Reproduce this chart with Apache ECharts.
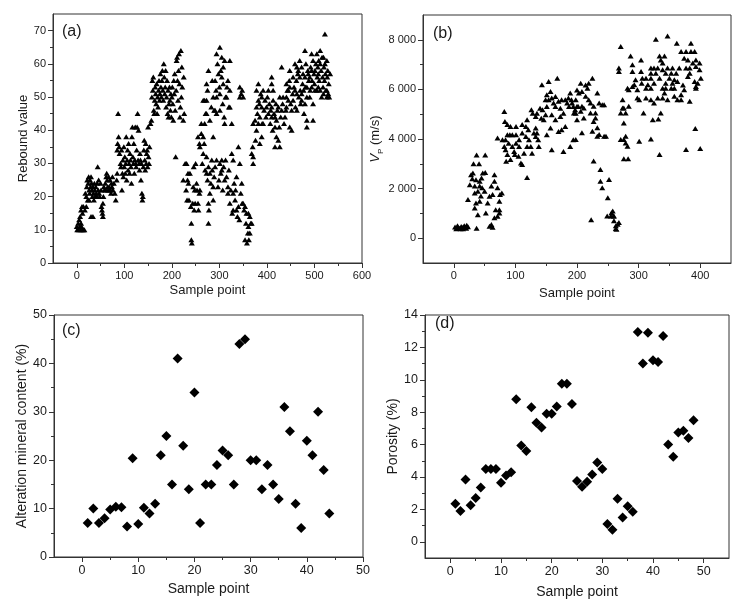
<!DOCTYPE html>
<html>
<head>
<meta charset="utf-8">
<script src="https://cdn.jsdelivr.net/npm/echarts@6/dist/echarts.min.js"></script>
<style>
  html, body { margin: 0; padding: 0; background: #fff; }
  #main { width: 743px; height: 611px; }
</style>
</head>
<body>
<div id="main"></div>
<script>
// (a) rebound value vs sample point
const reboundData = [
  [0,11],[1,10],[3,12],[4,10],[6,11],[8,10],[10,11],[12,10],[14,10],[16,10],[5,13],[9,12],[7,14],[9,16],[11,17],[14,17],[17,16],[12,15],
  [18,21],[20,20],[21,23],[22,25],[24,24],[25,26],[26,22],[27,21],[28,25],[29,23],[30,26],[31,24],[32,22],[33,20],[34,23],[35,21],[36,19],[37,24],[38,22],[39,20],[40,23],[41,21],[42,20],[43,24],[44,29],[45,22],[46,25],[47,21],[48,20],[50,24],[51,22],[52,17],[53,16],[54,15],[55,14],[55,18],[56,20],[57,23],[58,22],[60,24],[61,22],[62,26],[63,27],[64,25],[65,23],[66,22],[67,26],[68,23],[69,22],[70,25],[71,22],[72,21],[73,24],[74,23],[75,26],[76,22],[78,24],[80,21],[82,19],[84,25],[85,27],[30,14],[34,14],[20,17],[23,19],[26,19],
  [87,45],[85,34],[86,36],[88,38],[89,35],[90,33],[92,30],[93,29],[94,34],[95,22],[96,27],[97,31],[98,26],[99,35],[100,29],[101,32],[102,27],[103,30],[104,38],[105,25],[106,31],[107,34],[108,28],[109,36],[110,30],[111,27],[112,33],[113,31],[114,29],[115,24],[116,38],[117,41],[118,32],[119,30],[120,36],[121,27],[122,31],[123,41],[124,30],[125,29],[126,34],[127,41],[128,45],[129,31],[130,40],[131,30],[132,28],[133,33],[134,31],[135,25],[136,30],[137,21],[138,19],[139,20],[140,29],[141,34],[142,37],[143,31],[144,28],[145,36],[146,30],[147,33],[148,34],[149,29],[150,41],[151,32],[152,30],[153,35],[155,42],[157,43],
  [158,50],[159,55],[160,52],[161,56],[162,46],[163,45],[164,49],[165,53],[166,51],[167,48],[168,54],[169,45],[170,50],[171,47],[172,52],[173,55],[174,49],[175,51],[176,57],[177,53],[178,50],[179,55],[180,58],[181,52],[182,49],[183,60],[184,56],[185,51],[186,53],[187,58],[188,47],[189,50],[190,55],[191,45],[192,52],[193,44],[194,48],[195,53],[196,49],[197,46],[198,51],[199,44],[200,50],[201,53],[202,48],[203,43],[204,55],[205,51],[206,57],[207,46],[208,32],[209,52],[210,61],[211,62],[212,55],[213,49],[214,58],[215,63],[216,54],[217,44],[218,47],[219,64],[220,50],[221,59],[222,53],[224,43],[226,45],[225,56],
  [224,25],[228,30],[230,22],[231,30],[232,19],[233,25],[234,27],[235,24],[236,19],[238,27],[240,17],[241,12],[241,7],[242,6],[244,18],[245,23],[246,29],[247,16],[248,22],[249,18],[250,30],[252,24],[253,22],[255,18],[256,16],[258,21],[259,22],
  [255,38],[258,36],[259,35],[262,39],[264,30],[266,38],[266,33],[268,36],[270,28],[273,32],[273,27],[275,25],[277,29],[277,18],[277,12],[278,16],[280,27],[280,21],[282,24],[284,31],[285,28],[287,38],[287,23],[287,19],[289,26],[291,29],[294,31],[297,23],[299,25],[301,30],[303,27],[305,31],[305,28],[307,22],[309,29],[311,25],[313,31],[315,26],[318,23],[318,21],[320,28],[322,18],[324,22],[326,33],[327,15],[329,31],[329,21],[329,16],[331,24],[333,19],[334,22],[336,26],[336,16],[338,14],[340,35],[340,17],[342,13],[343,30],[345,21],[347,24],[348,18],[350,18],[352,16],[354,17],[354,7],[356,12],[357,15],[358,6],[360,9],[361,15],[361,11],[362,7],[364,14],[364,9],[366,12],[368,12],
  [262,42],[266,49],[269,42],[269,49],[271,45],[273,45],[273,49],[273,54],[275,52],[277,58],[280,43],[283,47],[285,55],[287,50],[289,46],[291,46],[291,55],[293,52],[294,50],[294,45],[294,63],[296,60],[298,57],[300,53],[301,51],[301,65],[301,46],[303,58],[305,62],[305,56],[307,48],[308,59],[308,54],[310,44],[311,61],[311,42],[313,50],[315,50],[316,53],[318,55],[320,47],[322,61],[322,52],[322,47],[326,42],[343,50],[343,53],[346,51],[348,52],[350,50],
  [368,33],[370,35],[371,42],[371,32],[371,30],[375,43],[376,37],[378,40],[378,47],[378,52],[380,45],[382,54],[382,49],[382,42],[384,48],[385,44],[385,36],[387,51],[389,50],[389,47],[389,38],[390,42],[392,52],[392,42],[394,46],[396,49],[398,44],[399,47],[401,50],[403,52],[403,45],[405,48],[407,42],[408,46],[410,54],[410,56],[410,47],[410,44],[412,40],[413,52],[413,49],[415,45],[417,44],[417,41],[417,35],[419,48],[420,43],[420,38],[422,46],[424,47],[424,37],[426,41],[427,50],[427,35],[429,44],[431,46],[431,59],[433,48],[434,50],[436,42],[438,44],[440,46],
  [441,54],[441,50],[441,47],[443,52],[445,52],[445,49],[447,55],[448,53],[448,58],[448,41],[450,48],[452,46],[452,40],[454,51],[455,56],[455,49],[457,53],[459,60],[459,52],[460,47],[462,55],[463,59],[463,51],[463,46],[465,57],[466,58],[467,50],[469,61],[469,56],[470,52],[471,48],[473,59],[473,51],[473,49],[475,54],[476,57],[477,52],[478,45],[480,64],[480,56],[480,48],[481,53],[482,60],[484,53],[484,50],[484,43],[484,41],[486,58],[487,57],[488,55],[490,56],[490,50],[491,52],[492,59],[494,63],[494,58],[494,53],[495,55],[497,61],[497,48],[497,43],[499,57],[500,54],[501,58],[501,52],[503,60],[505,63],[505,52],[506,56],[507,59],[508,57],[508,53],[509,61],[510,55],[512,64],[512,60],[512,52],[514,58],[515,50],[516,62],[517,56],[518,53],[519,62],[519,51],[520,59],[521,55],[522,69],[522,60],[523,57],[524,52],[526,61],[526,52],[526,50],[527,56],[528,58],[529,51],[530,54],[531,50],[533,57]
];

// (b) P-wave velocity vs sample point
const vpData = [
  [2,450],[4,380],[6,500],[8,420],[10,400],[12,470],[14,430],[15,380],[17,500],[19,440],[21,520],[23,460],[5,400],[11,380],[16,450],[20,400],
  [23,1560],[26,2160],[28,2560],[31,2630],[32,3000],[41,3000],[37,3350],[51,3350],[34,2100],[36,2360],[42,2300],[45,2430],[47,2630],[51,2650],[34,1820],[39,1890],[42,2100],[46,2030],[50,1890],[36,1420],[34,1220],[42,1490],[39,950],[37,400],[52,1020],[55,1420],[58,1690],[61,2100],[63,1760],[66,2300],[66,2560],[71,2030],[75,1760],[74,1490],[74,1150],[68,1150],[66,820],[71,890],[61,550],[63,440],[58,480],[74,1020],[78,1820],[30,2400],[44,1700],
  [82,5110],[83,4710],[87,4580],[71,4040],[79,3970],[84,3970],[87,4170],[91,4170],[95,4170],[101,4170],[92,4500],[101,4500],[82,3700],[84,3570],[87,3370],[85,3100],[92,3170],[89,3830],[95,3700],[98,3500],[101,3830],[99,3370],[106,3700],[105,3300],[109,3030],[111,2970],[106,3970],[111,4240],[117,4500],[119,4780],[111,4580],[117,4100],[121,4370],[122,3970],[119,3700],[125,3700],[114,3430],[127,3430],[119,2450],[126,5180],[128,5040],[133,4440],[135,4240],[130,4240],[133,4100],[137,3970],[138,3700],[133,4910],[135,5040],[140,5240],[144,5180],[142,4840],[146,4780],[149,4980],[151,5310],[143,6190],[154,6320],[151,5780],[157,5920],[159,5650],[149,5580],[154,5580],[162,5450],[165,5310],[170,5520],[168,6450],[173,5240],[175,5580],[181,5580],[178,5040],[173,4910],[159,4980],[165,4780],[157,4440],[151,4170],[159,3570],[178,3500],[170,4300],[175,4370],[181,4500],[165,5710],[186,5650],[189,5850],[184,5450],[187,5310],[191,5580],[194,5310],[197,5180],[198,5040],[200,5980],[202,5310],[194,3970],[189,3700],
  [206,6250],[214,6180],[219,6250],[225,6450],[217,6050],[208,5920],[203,5850],[214,5720],[219,5580],[222,5450],[198,5580],[192,5450],[200,5320],[208,5320],[211,5250],[206,5120],[195,5050],[211,4850],[200,4780],[222,5050],[227,5320],[233,5850],[236,5450],[241,5380],[244,5380],[230,5050],[227,4710],[230,4850],[233,4450],[225,4310],[233,4110],[236,4180],[244,4110],[247,4110],[208,4250],[198,3980],
  [227,3110],[238,2770],[238,2300],[241,2030],[252,2370],[250,1630],[249,900],[256,1030],[258,1100],[259,900],[255,900],[260,700],[263,500],[264,360],[266,560],[268,630],[223,740],[260,900],[263,390],
  [271,7730],[268,6860],[268,6720],[274,5580],[274,5250],[271,5050],[276,5250],[284,5320],[279,5050],[276,4650],[279,4110],[276,3980],[279,3840],[282,3710],[271,3980],[276,3200],[283,3200],[287,7350],[290,6990],[290,6720],[284,5990],[282,6050],[293,6190],[290,6120],[295,6390],[298,5990],[298,5650],[301,5580],[304,7190],[304,6720],[306,6450],[305,6250],[308,5050],[301,3910],
  [328,8020],[347,8150],[362,7860],[385,7860],[369,7530],[377,7530],[385,7530],[391,7530],[334,7350],[342,7350],[374,7260],[380,7190],[393,7190],[399,7060],[388,7060],[393,6920],[399,6790],[336,7190],[339,7060],[320,6860],[325,6860],[331,6860],[339,6790],[347,6860],[355,6860],[366,6860],[377,6860],[383,6860],[320,6650],[328,6650],[344,6650],[353,6650],[361,6650],[383,6650],[312,6450],[320,6450],[334,6450],[350,6450],[358,6390],[363,6320],[380,6520],[391,6320],[396,6250],[401,6450],[315,6190],[325,6250],[344,6250],[355,6250],[372,6180],[393,6120],[312,6050],[320,6050],[339,6050],[344,6050],[353,6050],[358,6050],[374,5990],[393,6050],[312,5650],[320,5580],[331,5650],[339,5650],[347,5580],[358,5720],[363,5580],[369,5580],[383,5520],[325,5450],[336,5050],[323,4780],[332,4810],[320,4000],[334,3370],[392,4420],[377,3580],[400,3620],[342,5850],[369,5780]
];

// (c) alteration mineral content, samples 1..44
const alterationValues = [7,10,7,8,9.8,10.4,10.3,6.3,20.4,6.8,10.2,9,11,21,25,15,41,23,14,34,7,15,15,19,22,21,15,44,45,20,20,14,19,15,12,31,26,11,6,24,21,30,18,9];

// (d) porosity, samples 1..48
const porosityValues = [2.35,1.9,3.85,2.25,2.7,3.35,4.5,4.5,4.5,3.65,4.1,4.3,8.8,5.95,5.6,8.3,7.35,7.05,7.9,7.9,8.35,9.75,9.75,8.5,3.75,3.4,3.7,4.15,4.9,4.5,1.1,0.75,2.65,1.5,2.2,1.85,12.95,11.0,12.9,11.2,11.1,12.7,6.0,5.25,6.75,6.85,6.4,7.5];

// tick positions
const aXTicks = [0,100,200,300,400,500,600];
const aYTicks = [0,10,20,30,40,50,60,70];
const bXTicks = [0,100,200,300,400];
const bYTicks = [0,2000,4000,6000,8000];
const cdXTicks = [0,10,20,30,40,50];
const cYTicks = [0,10,20,30,40,50];
const dYTicks = [0,2,4,6,8,10,12,14];

const fam = '"Liberation Sans", Arial, sans-serif';
const ink = '#1a1a1a';
const lineCol = '#333';

function majorAxis(grid, pos, min, max, ticks, fs, name, gap, fmt) {
  return {
    gridIndex: grid, type: 'value', position: pos, min: min, max: max,
    axisLine: { show: true, onZero: false, lineStyle: { color: lineCol } },
    axisTick: { show: true, customValues: ticks, length: 5, lineStyle: { color: lineCol } },
    axisLabel: { customValues: ticks, fontSize: fs, color: ink, fontFamily: fam, margin: 7, formatter: fmt },
    splitLine: { show: false },
    name: name, nameLocation: 'middle', nameGap: gap,
    nameTextStyle: { fontSize: 13, color: ink, fontFamily: fam }
  };
}
function minorAxis(grid, pos, min, max, ticks) {
  return {
    gridIndex: grid, type: 'value', position: pos, min: min, max: max,
    axisLine: { show: false, onZero: false },
    axisTick: { show: true, customValues: ticks, length: 3, lineStyle: { color: lineCol } },
    axisLabel: { show: false },
    splitLine: { show: false }
  };
}
const plain = v => String(v);
const spaced = v => String(v).replace(/\B(?=(\d{3})+(?!\d))/g, ' ');

const grids = [
  { left: 53, top: 14, width: 309, height: 249 },
  { left: 423, top: 15, width: 308, height: 248 },
  { left: 54, top: 315, width: 309, height: 242 },
  { left: 425, top: 315, width: 304, height: 243 }
].map(g => Object.assign({ show: true, borderColor: lineCol, borderWidth: 1, backgroundColor: 'transparent' }, g));

const xAxes = [
  majorAxis(0, 'bottom', -50, 600, aXTicks, 11, 'Sample point', 21, plain),
  majorAxis(1, 'bottom', -50, 450, bXTicks, 11, 'Sample point', 24, plain),
  majorAxis(2, 'bottom', -5, 50, cdXTicks, 12.5, 'Sample point', 25, plain),
  majorAxis(3, 'bottom', -5, 55, cdXTicks, 12.5, 'Sample point', 27, plain),
  minorAxis(0, 'bottom', -50, 600, [50,150,250,350,450,550]),
  minorAxis(1, 'bottom', -50, 450, [50,150,250,350]),
  minorAxis(2, 'bottom', -5, 50, [5,15,25,35,45]),
  minorAxis(3, 'bottom', -5, 55, [5,15,25,35,45])
];
const yAxes = [
  majorAxis(0, 'left', 0, 75, aYTicks, 11, 'Rebound value', 20, plain),
  majorAxis(1, 'left', -1000, 9000, bYTicks, 11, '{i|V}{s|P} (m/s)', 28, spaced),
  majorAxis(2, 'left', 0, 50, cYTicks, 12.5, 'Alteration mineral content (%)', 23, plain),
  majorAxis(3, 'left', -1, 14, dYTicks, 12.5, 'Porosity (%)', 22, plain),
  minorAxis(0, 'left', 0, 75, [5,15,25,35,45,55,65]),
  minorAxis(1, 'left', -1000, 9000, [1000,3000,5000,7000]),
  minorAxis(2, 'left', 0, 50, [5,15,25,35,45]),
  minorAxis(3, 'left', -1, 14, [1,3,5,7,9,11,13])
];
yAxes[1].nameTextStyle.rich = {
  i: { fontSize: 13, fontStyle: 'italic', color: ink, fontFamily: fam },
  s: { fontSize: 8, color: ink, fontFamily: fam, verticalAlign: 'bottom', lineHeight: 18 }
};
yAxes[2].nameTextStyle.fontSize = 14;
yAxes[3].nameTextStyle.fontSize = 14;
xAxes[2].nameTextStyle.fontSize = 14;
xAxes[3].nameTextStyle.fontSize = 14;

const panelLabels = [['(a)', 62, 24], ['(b)', 433, 26], ['(c)', 62, 323], ['(d)', 435, 316]];

const markStyle = { color: '#000', opacity: 1 };

const option = {
  backgroundColor: '#fff',
  animation: false,
  title: panelLabels.map(p => ({
    text: p[0], left: p[1], top: p[2], padding: 0,
    textStyle: { fontSize: 16, fontWeight: 'normal', color: ink, fontFamily: fam }
  })),
  grid: grids,
  xAxis: xAxes,
  yAxis: yAxes,
  series: [
    { type: 'scatter', xAxisIndex: 0, yAxisIndex: 0, data: reboundData,
      symbol: 'triangle', symbolSize: [6, 5], itemStyle: markStyle },
    { type: 'scatter', xAxisIndex: 1, yAxisIndex: 1, data: vpData,
      symbol: 'triangle', symbolSize: [6, 5], itemStyle: markStyle },
    { type: 'scatter', xAxisIndex: 2, yAxisIndex: 2, data: alterationValues.map((v, i) => [i + 1, v]),
      symbol: 'diamond', symbolSize: 10, itemStyle: markStyle },
    { type: 'scatter', xAxisIndex: 3, yAxisIndex: 3, data: porosityValues.map((v, i) => [i + 1, v]),
      symbol: 'diamond', symbolSize: 10, itemStyle: markStyle }
  ]
};

const chart = echarts.init(document.getElementById('main'));
chart.setOption(option);
</script>
</body>
</html>
